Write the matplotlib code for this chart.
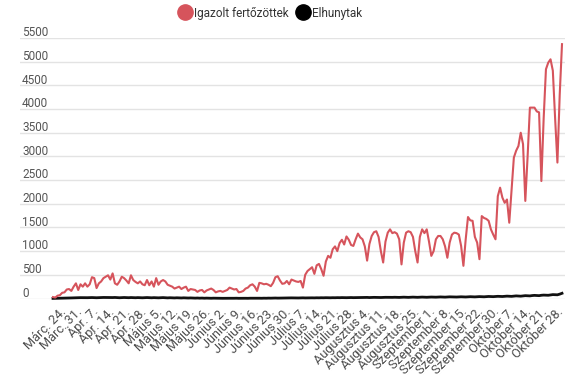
import matplotlib
matplotlib.use("Agg")
import matplotlib.pyplot as plt
from matplotlib.lines import Line2D
from matplotlib.transforms import ScaledTranslation

plt.rcParams['font.family'] = ['Roboto', 'DejaVu Sans']

tick_labels = ["Márc. 24.", "Márc. 31.", "Ápr. 7.", "Ápr. 14.", "Ápr. 21.", "Ápr. 28.",
               "Május 5.", "Május 12.", "Május 19.", "Május 26.", "Június 2.", "Június 9.",
               "Június 16.", "Június 23.", "Június 30.", "Július 7.", "Július 14.", "Július 21.",
               "Július 28.", "Augusztus 4.", "Augusztus 11.", "Augusztus 18.", "Augusztus 25.",
               "Szeptember 1.", "Szeptember 8.", "Szeptember 15.", "Szeptember 22.",
               "Szeptember 30.", "Október 7.", "Október 14.", "Október 21.", "Október 28."]
first_label_index = 5
label_step = 7

confirmed = [30, 20, 60, 70, 120, 130, 190, 200, 160, 250, 320, 180, 300, 250,
             320, 250, 300, 450, 430, 220, 320, 360, 430, 460, 490, 400, 530, 320, 290,
             360, 460, 430, 380, 320, 490, 390, 350, 320, 360, 300, 280, 390, 280,
             360, 250, 430, 290, 360, 390, 360, 290, 270, 250, 210, 230, 250, 200,
             230, 250, 160, 200, 190, 180, 140, 170, 180, 130, 170, 190, 210, 180, 130,
             150, 160, 140, 160, 180, 230, 210, 190, 200, 130, 140, 160, 210, 230,
             280, 300, 250, 160, 330, 320, 300, 310, 290, 260, 330, 450, 470, 380,
             310, 320, 370, 300, 400, 380, 360, 350, 370, 230, 500, 580, 620, 660, 520,
             700, 730, 620, 480, 780, 900, 860, 1040, 1100, 1000, 1170, 1240, 1140, 1310,
             1240, 1130, 1110, 1250, 1370, 1290, 1250, 1100, 800, 1150, 1320, 1400, 1420, 1300,
             1000, 760, 1200, 1390, 1460, 1380, 1400, 1370, 1250, 720, 1180, 1390, 1420, 1400, 1300,
             1000, 760, 1300, 1460, 1380, 1460, 1200, 900, 1000, 1250, 1320, 1320, 1250, 1100,
             860, 1180, 1350, 1390, 1380, 1350, 1110, 690, 1250, 1720, 1650, 1640, 1300, 1180,
             830, 1740, 1700, 1680, 1640, 1460, 1350, 1250, 2160, 2340, 2130, 2020, 2090, 1600, 2300,
             2975, 3120, 3220, 3500, 3260, 2060, 3000, 4030, 4030, 4030, 3950, 3930, 2480, 3800,
             4840, 4980, 5050, 4810, 3800, 2870, 4300, 5370]

deaths = [2, 3, 4, 5, 6, 8, 9, 10, 12, 14, 15, 16, 18, 17, 15, 17, 19, 20, 18, 16,
          18, 20, 22, 21, 19, 17, 20, 22, 18, 16, 19, 21, 18, 17, 20, 18, 16, 19, 17, 15, 18,
          20, 17, 15, 18, 16, 14, 17, 19, 15, 13, 16, 14, 12, 15, 13, 11, 14, 12, 10, 12,
          9, 8, 10, 7, 9, 6, 8, 6, 5, 7, 6, 5, 6, 4, 5, 6, 5, 4, 5, 6, 4,
          5, 6, 5, 4, 6, 5, 6, 7, 6, 5, 7, 6, 8, 7, 9, 10, 8, 9, 11, 10,
          12, 11, 13, 12, 12, 11, 13, 14, 12, 13, 15, 14, 13, 15, 14, 16, 15, 17, 16, 15, 17,
          16, 18, 17, 19, 18, 17, 19, 20, 18, 19, 21, 20, 22, 21, 23, 20, 22, 24, 23, 22, 21,
          23, 25, 24, 22, 24, 26, 25, 23, 26, 28, 26, 24, 27, 29, 27, 25, 28, 30, 28, 26,
          29, 31, 30, 28, 31, 33, 31, 29, 32, 35, 33, 32, 31, 34, 36, 34, 32, 36, 38, 36, 34,
          38, 40, 38, 36, 40, 43, 41, 39, 43, 46, 44, 42, 46, 50, 48, 45, 50, 55, 52, 49,
          55, 60, 58, 55, 62, 66, 63, 60, 68, 72, 70, 68, 75, 82, 80, 78, 92, 110]

yticks = [0, 500, 1000, 1500, 2000, 2500, 3000, 3500, 4000, 4500, 5000, 5500]

W, H = 575, 387
fig = plt.figure(figsize=(W / 100, H / 100), dpi=100)
ax_left, ax_right = 20, 565
ax_top, ax_bot = 38, 298.5
ax = fig.add_axes([ax_left / W, 1 - ax_bot / H, (ax_right - ax_left) / W, (ax_bot - ax_top) / H])

n = len(confirmed)
x = list(range(n))
ax.plot(x, deaths, color='#111111', lw=2.0, clip_on=False, zorder=3, solid_joinstyle='round')
ax.plot(x, confirmed, color='#d6545c', lw=1.5, clip_on=False, zorder=4, solid_joinstyle='round')

px_per_unit = (562 - 53) / (n - 1)
xmin = -(53 - ax_left) / px_per_unit
xmax = xmin + (ax_right - ax_left) / px_per_unit
ax.set_xlim(xmin, xmax)
ax.set_ylim(0, 5500)

for v in yticks:
    ax.axhline(v, color='#e3e3e3', lw=1.0, zorder=1)
    ax.annotate(str(v), xy=(0, v), xycoords=('axes fraction', 'data'),
                xytext=(1.5, 1.2), textcoords='offset points', ha='left', va='baseline',
                fontsize=8.5, color='#555555')
ax.set_yticks([])

tick_pos = list(range(first_label_index, n, label_step))
ax.set_xticks(tick_pos)
ax.set_xticklabels(tick_labels, rotation=45, ha='right', va='baseline',
                   rotation_mode='anchor', fontsize=9.2, color='#4d4d4d')
ax.tick_params(axis='x', length=0, pad=10)
for lab in ax.get_xticklabels():
    lab.set_transform(lab.get_transform() + ScaledTranslation(2 / 100, 0, fig.dpi_scale_trans))

for s in ax.spines.values():
    s.set_visible(False)

handles = [Line2D([], [], marker='o', color='none', markerfacecolor='#d6545c',
                  markeredgecolor='#d6545c', markersize=11),
           Line2D([], [], marker='o', color='none', markerfacecolor='#000000',
                  markeredgecolor='#000000', markersize=11)]
fig.legend(handles, ["Igazolt fertőzöttek", "Elhunytak"], loc='center',
           bbox_to_anchor=(270 / W, 1 - 13 / H), ncol=2, frameon=False,
           fontsize=8.5, handletextpad=0.2, columnspacing=0.6, handlelength=1.2,
           labelcolor='#333333')

fig.savefig('out.png', dpi=100, facecolor='white')
